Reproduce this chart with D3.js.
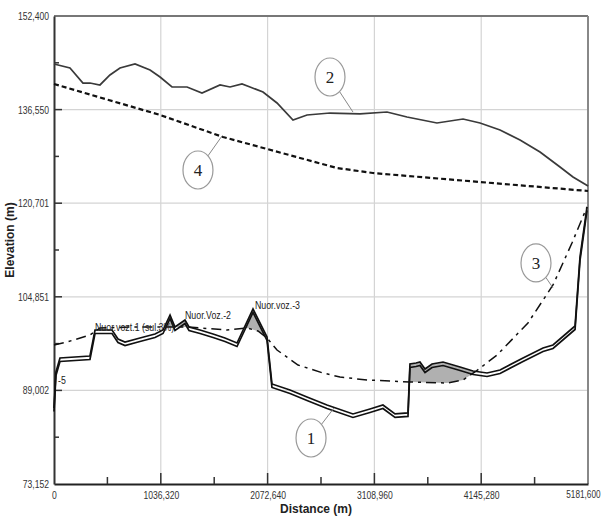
<!DOCTYPE html>
<html><head><meta charset="utf-8">
<script src="https://cdn.jsdelivr.net/npm/d3@7"></script>
<style>
html,body{margin:0;padding:0;background:#fff;}
svg{display:block;}
.tick text{font-family:"Liberation Sans",Arial,sans-serif;}
</style></head><body>
<svg id="chart" width="602" height="516"></svg>
<script>
// ---- data ----
const xTickValues = [0, 1036.32, 2072.64, 3108.96, 4145.28, 5181.6];
const xTickLabels = ["0", "1036,320", "2072,640", "3108,960", "4145,280", "5181,600"];
const yTickValues = [73.152, 89.0016, 104.8512, 120.7008, 136.5504, 152.4];
const yTickLabels = ["73,152", "89,002", "104,851", "120,701", "136,550", "152,400"];

// curve 2: ground surface
const groundD = [0,155,281,349,446,543,640,786,932,1029,1145,1291,1436,1611,1708,1824,1902,2028,2164,2319,2455,2678,2969,3231,3425,3716,3969,4134,4328,4522,4716,4910,5036,5182];
const groundE = [144.27,143.6,141.05,141.05,140.72,142.41,143.6,144.27,143.26,142.07,140.38,140.38,139.36,140.72,140.38,140.89,140.38,139.53,137.67,134.79,135.64,135.97,135.81,136.14,135.30,134.28,134.96,134.28,133.10,131.40,129.37,126.83,125.14,123.61];

// curve 4: dashed line
const line4D = [0,1029,1640,2746,3095,4134,5182];
const line4E = [140.89,135.64,131.91,126.66,125.81,124.29,122.77];

// curve 1: channel profile
const profD = [0,19,58,349,398,563,621,689,834,980,1058,1126,1174,1271,1310,1417,1543,1659,1776,1931,2067,2115,2290,2455,2649,2901,3066,3192,3309,3435,3454,3513,3551,3600,3668,3775,3940,4066,4202,4328,4551,4745,4842,5056,5104,5172];
const profE = [86.02,92.12,94.49,94.83,99.23,99.23,97.71,97.20,97.88,98.55,99.23,101.77,99.74,100.92,99.74,99.23,98.55,97.88,97.03,102.79,98.05,90.09,89.07,87.89,86.53,85.01,85.85,86.53,85.01,85.18,93.47,93.64,93.81,92.63,93.47,93.81,92.97,92.29,91.95,92.46,94.49,96.18,96.69,99.91,111.59,120.06];

// curve 3: dash-dot line
const line3D = [0,126,349,446,767,1291,1679,1873,1979,2067,2164,2368,2610,2775,3037,3260,3454,3813,3969,4085,4299,4599,4842,5026,5172];
const line3E = [96.69,97.20,98.38,99.57,99.74,99.74,99.23,99.57,99.06,97.88,95.84,93.30,91.95,91.27,90.76,90.59,90.42,90.25,90.76,92.12,94.99,100.42,106.85,113.96,120.06];

// point labels
const labelText = ["-5", "Nuor.vozt.1 (sul.3%)", "Nuor.Voz.-2", "Nuor.voz.-3"];
const labelD = [39, 398, 1271, 1950];
const labelE = [90.09, 99.06, 101.09, 102.79];

// callouts
const calloutText = ["2", "4", "3", "1"];
const calloutD = [2678, 1397, 4677, 2494];
const calloutE = [142.07, 126.32, 110.58, 80.94];
const calloutTargetD = [2901, 1630, 4842, 2717];
const calloutTargetE = [136.14, 132.08, 106.35, 86.02];

// ---- chart ----
const svg = d3.select("#chart");
const L = 54, R = 588, T = 16, B = 484;
const x = d3.scaleLinear().domain([0, 5181.6]).range([L, R]);
const y = d3.scaleLinear().domain([73.152, 152.4]).range([B, T]);

const zip = (a, b) => a.map((v, i) => [v, b[i]]);
const ground = zip(groundD, groundE);
const line4 = zip(line4D, line4E);
const prof = zip(profD, profE);
const line3 = zip(line3D, line3E);

function squeeze(sel, f) {
  sel.each(function () {
    const w = this.getComputedTextLength();
    d3.select(this).attr("textLength", w * f).attr("lengthAdjust", "spacingAndGlyphs");
  });
}

// grid
const minorX = d3.range(0, 5).map(i => (xTickValues[i] + xTickValues[i+1]) / 2);
const minorY = d3.range(0, 5).map(i => (yTickValues[i] + yTickValues[i+1]) / 2);

svg.append("g").selectAll("line").data(xTickValues.slice(1, -1)).join("line")
  .attr("x1", d => x(d)).attr("x2", d => x(d)).attr("y1", T).attr("y2", B)
  .attr("stroke", "#d4d4d4").attr("stroke-width", 1.2);
svg.append("g").selectAll("line").data(yTickValues.slice(1, -1)).join("line")
  .attr("y1", d => y(d)).attr("y2", d => y(d)).attr("x1", L).attr("x2", R)
  .attr("stroke", "#d4d4d4").attr("stroke-width", 1.2);

// frame top/right
svg.append("line").attr("x1", L).attr("x2", R).attr("y1", T).attr("y2", T).attr("stroke", "#777").attr("stroke-width", 2);
svg.append("line").attr("x1", R).attr("x2", R).attr("y1", T).attr("y2", B).attr("stroke", "#888").attr("stroke-width", 2);

// axes
const xAxis = d3.axisBottom(x).tickValues(xTickValues).tickFormat((d, i) => xTickLabels[i]).tickSize(0).tickPadding(7);
const gx = svg.append("g").attr("transform", `translate(0,${B})`).call(xAxis);
gx.select(".domain").attr("stroke", "#222").attr("stroke-width", 2);
gx.selectAll("text").attr("font-size", 11).attr("fill", "#333")
  .each(function (d, i) {
    const last = i === xTickValues.length - 1;
    const sel = d3.select(this);
    if (last) sel.attr("font-size", 10).attr("text-anchor", "end").attr("dx", 12);
    const w = this.getComputedTextLength();
    sel.attr("textLength", w * (last ? 0.82 : 0.78)).attr("lengthAdjust", "spacingAndGlyphs");
  });

const yAxis = d3.axisLeft(y).tickValues(yTickValues).tickFormat((d, i) => yTickLabels[i]).tickSize(0).tickPadding(5);
const gy = svg.append("g").attr("transform", `translate(${L},0)`).call(yAxis);
gy.select(".domain").attr("stroke", "#333").attr("stroke-width", 2);
gy.selectAll("text").attr("font-size", 11).attr("fill", "#333").call(squeeze, 0.78);

// inward ticks
svg.append("g").selectAll("line").data(xTickValues.slice(1, -1)).join("line")
  .attr("x1", d => x(d)).attr("x2", d => x(d)).attr("y1", B).attr("y2", B - 11).attr("stroke", "#333").attr("stroke-width", 1.5);
svg.append("g").selectAll("line").data(minorX).join("line")
  .attr("x1", d => x(d)).attr("x2", d => x(d)).attr("y1", B).attr("y2", B - 7).attr("stroke", "#333").attr("stroke-width", 1.5);
svg.append("g").selectAll("line").data(yTickValues.slice(1, -1)).join("line")
  .attr("y1", d => y(d)).attr("y2", d => y(d)).attr("x1", L).attr("x2", L + 8).attr("stroke", "#333").attr("stroke-width", 1.5);
svg.append("g").selectAll("line").data(minorY).join("line")
  .attr("y1", d => y(d)).attr("y2", d => y(d)).attr("x1", L).attr("x2", L + 5).attr("stroke", "#333").attr("stroke-width", 1.5);

// axis titles
svg.append("text").attr("x", 316).attr("y", 513).attr("text-anchor", "middle")
  .attr("font-family", "Liberation Sans, Arial, sans-serif").attr("font-weight", "bold").attr("font-size", 12).attr("fill", "#222")
  .text("Distance (m)");
svg.append("text").attr("transform", "translate(14,240) rotate(-90)").attr("text-anchor", "middle")
  .attr("font-family", "Liberation Sans, Arial, sans-serif").attr("font-weight", "bold").attr("font-size", 12).attr("fill", "#222")
  .text("Elevation (m)");

const lineGen = d3.line().x(d => x(d[0])).y(d => y(d[1]));

// gray fill where profile is above line 3
const defs = svg.append("defs");
defs.append("clipPath").attr("id", "aboveL3").append("path")
  .attr("d", d3.area().x(d => x(d[0])).y0(T).y1(d => y(d[1]))(line3));
svg.append("path")
  .attr("d", d3.area().x(d => x(d[0])).y0(B).y1(d => y(d[1]))(prof))
  .attr("fill", "#b0b0b0").attr("clip-path", "url(#aboveL3)");

// curve 2
svg.append("path").attr("d", lineGen(ground)).attr("fill", "none").attr("stroke", "#3a3a3a").attr("stroke-width", 1.7);
// curve 4
svg.append("path").attr("d", lineGen(line4)).attr("fill", "none").attr("stroke", "#111").attr("stroke-width", 2.2).attr("stroke-dasharray", "5,3");
// curve 3
svg.append("path").attr("d", lineGen(line3)).attr("fill", "none").attr("stroke", "#111").attr("stroke-width", 1.5).attr("stroke-dasharray", "10,5,3,5");
// curve 1 (double line symbol)
svg.append("path").attr("d", lineGen(prof)).attr("fill", "none").attr("stroke", "#111").attr("stroke-width", 1.7);
svg.append("path").attr("d", lineGen(prof)).attr("transform", "translate(0,3.5)").attr("fill", "none").attr("stroke", "#111").attr("stroke-width", 1.7);

// point labels
svg.append("g").selectAll("text").data(labelText).join("text")
  .attr("x", (d, i) => x(labelD[i])).attr("y", (d, i) => y(labelE[i]))
  .attr("font-family", "Liberation Sans, Arial, sans-serif").attr("font-size", 11).attr("fill", "#222")
  .text(d => d)
  .call(squeeze, 0.8);

// callouts
const rx = 15, ry = 19;
calloutText.forEach((t, i) => {
  const cx = x(calloutD[i]), cy = y(calloutE[i]);
  const tx = x(calloutTargetD[i]), ty = y(calloutTargetE[i]);
  const dx = tx - cx, dy = ty - cy;
  const k = 1 / Math.sqrt((dx * dx) / (rx * rx) + (dy * dy) / (ry * ry));
  svg.append("line").attr("x1", cx + dx * k).attr("y1", cy + dy * k).attr("x2", tx).attr("y2", ty)
    .attr("stroke", "#888").attr("stroke-width", 1);
  svg.append("ellipse").attr("cx", cx).attr("cy", cy).attr("rx", rx).attr("ry", ry)
    .attr("fill", "#fff").attr("stroke", "#999").attr("stroke-width", 1.2);
  svg.append("text").attr("x", cx).attr("y", cy + 6).attr("text-anchor", "middle")
    .attr("font-family", "Liberation Serif, Times New Roman, serif").attr("font-size", 17).attr("fill", "#222")
    .text(t);
});
</script>
</body></html>
